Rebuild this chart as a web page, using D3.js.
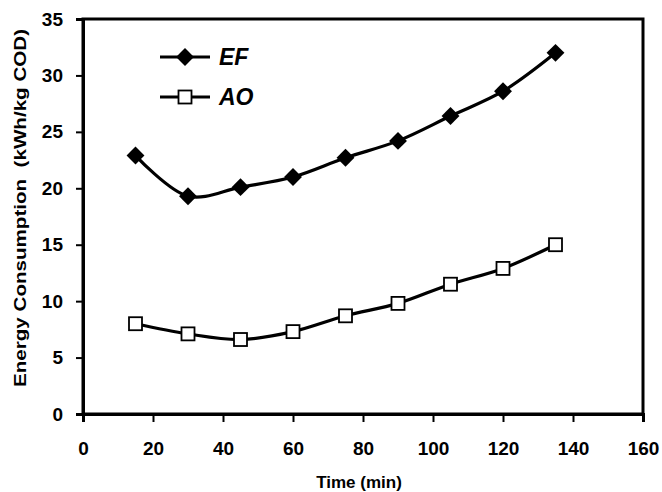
<!doctype html>
<html>
<head>
<meta charset="utf-8">
<title>Energy Consumption</title>
<script src="https://cdnjs.cloudflare.com/ajax/libs/d3/7.8.5/d3.min.js"></script>
<style>
  body { margin: 0; background: #fff; }
  svg text { font-family: "Liberation Sans", Arial, sans-serif; font-weight: bold; fill: #000; }
</style>
</head>
<body>
<div id="chart"></div>
<script>
// data
const times = [15, 30, 45, 60, 75, 90, 105, 120, 135];
const efValues = [22.9, 19.3, 20.1, 21.0, 22.7, 24.2, 26.4, 28.6, 32.0];
const aoValues = [8.0, 7.1, 6.6, 7.3, 8.7, 9.8, 11.5, 12.9, 15.0];
const xTicks = [0, 20, 40, 60, 80, 100, 120, 140, 160];
const yTicks = [0, 5, 10, 15, 20, 25, 30, 35];

const width = 662, height = 492;
const margin = { top: 19, right: 19, bottom: 78, left: 83 };

const svg = d3.select('#chart').append('svg')
  .attr('width', width)
  .attr('height', height);

const x = d3.scaleLinear().domain([0, 160]).range([margin.left, width - margin.right]);
const y = d3.scaleLinear().domain([0, 35]).range([height - margin.bottom, margin.top]);

// frame
svg.append('rect')
  .attr('x', x(0)).attr('y', y(35))
  .attr('width', x(160) - x(0)).attr('height', y(0) - y(35))
  .attr('fill', 'none').attr('stroke', '#000').attr('stroke-width', 3);

// axes
const xAxis = svg.append('g')
  .attr('transform', `translate(0,${y(0)})`)
  .call(d3.axisBottom(x).tickValues(xTicks).tickSize(8).tickPadding(20));
const yAxis = svg.append('g')
  .attr('transform', `translate(${x(0)},0)`)
  .call(d3.axisLeft(y).tickValues(yTicks).tickSize(7).tickPadding(13));

[xAxis, yAxis].forEach(g => {
  g.attr('font-family', null).attr('font-size', null);
  g.select('.domain').attr('stroke-width', 3);
  g.selectAll('.tick line').attr('stroke-width', 2);
  g.selectAll('.tick text').style('font-size', '19px');
});

// axis titles
svg.append('text')
  .attr('x', 359).attr('y', 488)
  .attr('text-anchor', 'middle')
  .style('font-size', '17px')
  .text('Time (min)');

svg.append('text')
  .attr('transform', `translate(26,208) rotate(-90)`)
  .attr('text-anchor', 'middle')
  .attr('textLength', 358)
  .attr('lengthAdjust', 'spacingAndGlyphs')
  .style('font-size', '17px')
  .style('white-space', 'pre')
  .text('Energy Consumption  (kWh/kg COD)');

// lines
const line = d3.line()
  .x(d => x(d[0]))
  .y(d => y(d[1]))
  .curve(d3.curveCatmullRom.alpha(0.5));

const efData = times.map((t, i) => [t, efValues[i]]);
const aoData = times.map((t, i) => [t, aoValues[i]]);

svg.append('path').datum(efData).attr('d', line)
  .attr('fill', 'none').attr('stroke', '#000').attr('stroke-width', 3.2);
svg.append('path').datum(aoData).attr('d', line)
  .attr('fill', 'none').attr('stroke', '#000').attr('stroke-width', 3.2);

// markers
const diamond = d3.symbol().type(d3.symbolSquare).size(160);
svg.selectAll('.ef').data(efData).join('path')
  .attr('class', 'ef')
  .attr('d', diamond)
  .attr('transform', d => `translate(${x(d[0])},${y(d[1])}) rotate(45)`)
  .attr('fill', '#000');

svg.selectAll('.ao').data(aoData).join('rect')
  .attr('class', 'ao')
  .attr('x', d => x(d[0]) - 6.5).attr('y', d => y(d[1]) - 6.5)
  .attr('width', 13).attr('height', 13)
  .attr('fill', '#fff').attr('stroke', '#000').attr('stroke-width', 1.8);

// legend
const legend = svg.append('g');
legend.append('line').attr('x1', 160).attr('x2', 210).attr('y1', 57).attr('y2', 57)
  .attr('stroke', '#000').attr('stroke-width', 3.2);
legend.append('path').attr('d', diamond)
  .attr('transform', 'translate(185,57) rotate(45)').attr('fill', '#000');
legend.append('text').attr('x', 219).attr('y', 65)
  .style('font-size', '23px').style('font-style', 'italic').text('EF');

legend.append('line').attr('x1', 160).attr('x2', 210).attr('y1', 97).attr('y2', 97)
  .attr('stroke', '#000').attr('stroke-width', 3.2);
legend.append('rect').attr('x', 178.5).attr('y', 90.5).attr('width', 13).attr('height', 13)
  .attr('fill', '#fff').attr('stroke', '#000').attr('stroke-width', 1.8);
legend.append('text').attr('x', 219).attr('y', 105)
  .style('font-size', '23px').style('font-style', 'italic').text('AO');
</script>
</body>
</html>
